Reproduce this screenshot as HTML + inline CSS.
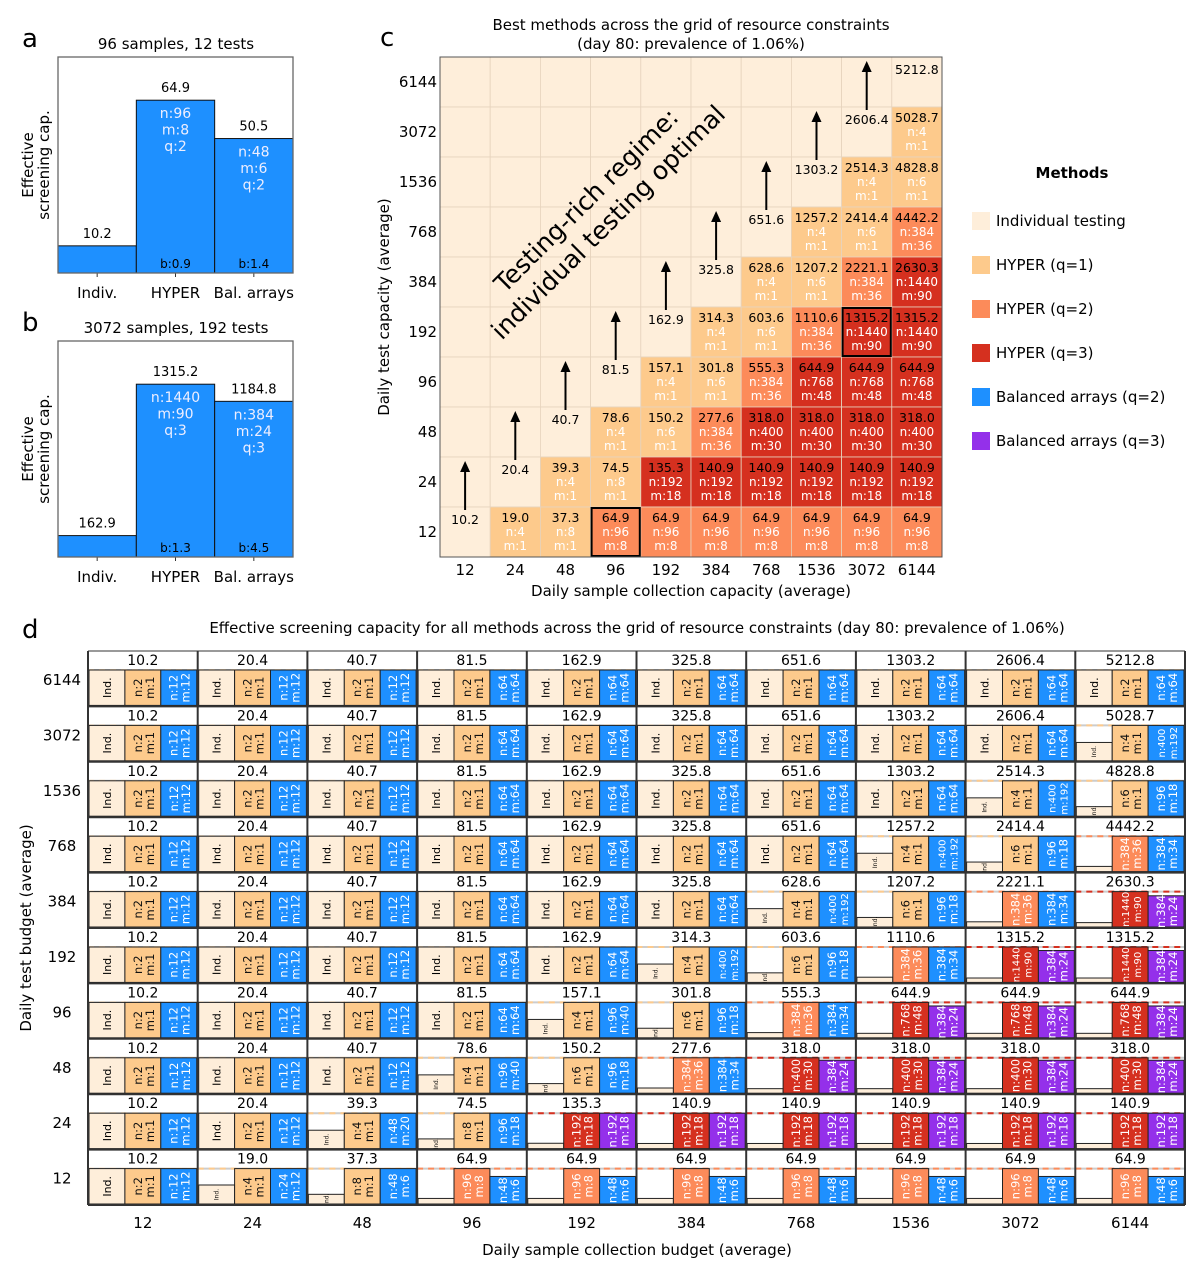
<!DOCTYPE html>
<html><head><meta charset="utf-8"><style>
html,body{margin:0;padding:0;background:#fff}
svg{display:block;font-family:"DejaVu Sans","Liberation Sans",sans-serif}
</style></head><body>
<svg id="fig" width="1200" height="1275" viewBox="0 0 1200 1275" xmlns="http://www.w3.org/2000/svg">
<g id="pa"></g>
<g id="pb"></g>
<g id="pc"></g>
<g id="pd"></g>
</svg>
<script>
const samples=[12,24,48,96,192,384,768,1536,3072,6144];
const tests=[6144,3072,1536,768,384,192,96,48,24,12];
const indVals=[10.2,20.4,40.7,81.5,162.9,325.8,651.6,1303.2,2606.4,5212.8];
const bestVals=[
[10.2,20.4,40.7,81.5,162.9,325.8,651.6,1303.2,2606.4,5212.8],
[10.2,20.4,40.7,81.5,162.9,325.8,651.6,1303.2,2606.4,5028.7],
[10.2,20.4,40.7,81.5,162.9,325.8,651.6,1303.2,2514.3,4828.8],
[10.2,20.4,40.7,81.5,162.9,325.8,651.6,1257.2,2414.4,4442.2],
[10.2,20.4,40.7,81.5,162.9,325.8,628.6,1207.2,2221.1,2630.3],
[10.2,20.4,40.7,81.5,162.9,314.3,603.6,1110.6,1315.2,1315.2],
[10.2,20.4,40.7,81.5,157.1,301.8,555.3,644.9,644.9,644.9],
[10.2,20.4,40.7,78.6,150.2,277.6,318.0,318.0,318.0,318.0],
[10.2,20.4,39.3,74.5,135.3,140.9,140.9,140.9,140.9,140.9],
[10.2,19.0,37.3,64.9,64.9,64.9,64.9,64.9,64.9,64.9]];
const hyperLabs=[
["2,1,1","2,1,1","2,1,1","2,1,1","2,1,1","2,1,1","2,1,1","2,1,1","2,1,1","2,1,1"],
["2,1,1","2,1,1","2,1,1","2,1,1","2,1,1","2,1,1","2,1,1","2,1,1","2,1,1","4,1,1"],
["2,1,1","2,1,1","2,1,1","2,1,1","2,1,1","2,1,1","2,1,1","2,1,1","4,1,1","6,1,1"],
["2,1,1","2,1,1","2,1,1","2,1,1","2,1,1","2,1,1","2,1,1","4,1,1","6,1,1","384,36,2"],
["2,1,1","2,1,1","2,1,1","2,1,1","2,1,1","2,1,1","4,1,1","6,1,1","384,36,2","1440,90,3"],
["2,1,1","2,1,1","2,1,1","2,1,1","2,1,1","4,1,1","6,1,1","384,36,2","1440,90,3","1440,90,3"],
["2,1,1","2,1,1","2,1,1","2,1,1","4,1,1","6,1,1","384,36,2","768,48,3","768,48,3","768,48,3"],
["2,1,1","2,1,1","2,1,1","4,1,1","6,1,1","384,36,2","400,30,3","400,30,3","400,30,3","400,30,3"],
["2,1,1","2,1,1","4,1,1","8,1,1","192,18,3","192,18,3","192,18,3","192,18,3","192,18,3","192,18,3"],
["2,1,1","4,1,1","8,1,1","96,8,2","96,8,2","96,8,2","96,8,2","96,8,2","96,8,2","96,8,2"]];
const baLabs=[
["12,12,2","12,12,2","12,12,2","64,64,2","64,64,2","64,64,2","64,64,2","64,64,2","64,64,2","64,64,2"],
["12,12,2","12,12,2","12,12,2","64,64,2","64,64,2","64,64,2","64,64,2","64,64,2","64,64,2","400,192,2"],
["12,12,2","12,12,2","12,12,2","64,64,2","64,64,2","64,64,2","64,64,2","64,64,2","400,192,2","96,18,2"],
["12,12,2","12,12,2","12,12,2","64,64,2","64,64,2","64,64,2","64,64,2","400,192,2","96,18,2","384,34,2"],
["12,12,2","12,12,2","12,12,2","64,64,2","64,64,2","64,64,2","400,192,2","96,18,2","384,34,2","384,24,3"],
["12,12,2","12,12,2","12,12,2","64,64,2","64,64,2","400,192,2","96,18,2","384,34,2","384,24,3","384,24,3"],
["12,12,2","12,12,2","12,12,2","64,64,2","96,40,2","96,18,2","384,34,2","384,24,3","384,24,3","384,24,3"],
["12,12,2","12,12,2","12,12,2","96,40,2","96,18,2","384,34,2","384,24,3","384,24,3","384,24,3","384,24,3"],
["12,12,2","12,12,2","48,20,2","96,18,2","192,18,3","192,18,3","192,18,3","192,18,3","192,18,3","192,18,3"],
["12,12,2","24,12,2","48,6,2","48,6,2","48,6,2","48,6,2","48,6,2","48,6,2","48,6,2","48,6,2"]];
const baVals=[
[10.2,20.4,40.7,81.5,162.9,325.8,651.6,1303.2,2606.4,5212.8],
[10.2,20.4,40.7,81.5,162.9,325.8,651.6,1303.2,2606.4,5028.7],
[10.2,20.4,40.7,81.5,162.9,325.8,651.6,1303.2,2514.3,4828.8],
[10.2,20.4,40.7,81.5,162.9,325.8,651.6,1257.2,2414.4,4442.2],
[10.2,20.4,40.7,81.5,162.9,325.8,628.6,1207.2,2221.1,2320.0],
[10.2,20.4,40.7,81.5,162.9,314.3,603.6,1110.6,1184.8,1184.8],
[10.2,20.4,40.7,81.5,157.1,301.8,555.3,580.0,580.0,580.0],
[10.2,20.4,40.7,78.6,150.2,277.6,296.0,296.0,296.0,296.0],
[10.2,20.4,39.3,74.5,135.3,140.9,140.9,140.9,140.9,140.9],
[10.2,19.0,37.3,50.5,50.5,50.5,50.5,50.5,50.5,50.5]];
// panel a/b data
const abCats=["Indiv.","HYPER","Bal. arrays"];
const aVals=[10.2,64.9,50.5];
const aLabs=["","n:96|m:8|q:2","n:48|m:6|q:2"];
const aB=["","b:0.9","b:1.4"];
const bVals=[162.9,1315.2,1184.8];
const bLabs=["","n:1440|m:90|q:3","n:384|m:24|q:3"];
const bB=["","b:1.3","b:4.5"];
const legendNames=["Individual testing","HYPER (q=1)","HYPER (q=2)","HYPER (q=3)","Balanced arrays (q=2)","Balanced arrays (q=3)"];

const COL={ind:"#feeeda",h1:"#fdca8c",h2:"#fc8b5a",h3:"#d5301f",b2:"#1e90ff",b3:"#9430ea"};
const NS="http://www.w3.org/2000/svg";
function el(p,tag,at,name){const e=document.createElementNS(NS,tag);for(const k in at)e.setAttribute(k,at[k]);


p.appendChild(e);return e;}
function tx(p,x,y,s,fs,name,extra){const o=Object.assign({x:x,y:y,'font-size':fs,'text-anchor':'middle',fill:'#000'},extra||{});const e=el(p,'text',o,name);e.textContent=s;return e;}

// ---------- panels a & b
function barPanel(g,top,title,vals,labs,bs,letter){
  const L=58,R=293,T=top,B=top+216,bw=(R-L)/3,mx=Math.max(...vals)*1.25;
  const ys=v=>B-v/mx*(B-T);
  tx(g,22,top-10,letter,26,'panel-letter',{'text-anchor':'start'});
  tx(g,176,top-8,title,15,'panel-title');
  vals.forEach((v,i)=>{
    const x=L+i*bw;
    el(g,'rect',{x:x,y:ys(v),width:bw,height:B-ys(v),fill:COL.b2,stroke:'#111','stroke-width':1},'bar-'+abCats[i].toLowerCase().replace(/[^a-z]+/g,'-'));
    tx(g,x+bw/2,ys(v)-8,v.toFixed(1),13,'bar-value');
    if(labs[i]) labs[i].split('|').forEach((s,j)=>tx(g,x+bw/2,ys(v)+18+j*16.5,s,14,'bar-params',{fill:'#eef'}));
    if(bs[i]) tx(g,x+bw/2,B-5,bs[i],12,'bar-b-label');
    el(g,'line',{x1:x+bw/2,x2:x+bw/2,y1:B,y2:B+4,stroke:'#333'},'x-tick');
    tx(g,x+bw/2,B+25,abCats[i],15,'x-tick-label');
  });
  el(g,'rect',{x:L,y:T,width:R-L,height:B-T,fill:'none',stroke:'#666','stroke-width':1.3},'axes-frame');
  const yl=el(g,'text',{x:0,y:0,'font-size':15,'text-anchor':'middle',transform:`translate(33,${(T+B)/2}) rotate(-90)`},'y-axis-title');
  yl.innerHTML='<tspan x="0" dy="0">Effective</tspan><tspan x="0" dy="16">screening cap.</tspan>';
}
barPanel(document.getElementById('pa'),57,"96 samples, 12 tests",aVals,aLabs,aB,'a');
barPanel(document.getElementById('pb'),341,"3072 samples, 192 tests",bVals,bLabs,bB,'b');

function parse(s){const a=s.split(',');return {n:a[0],m:a[1],q:+a[2]};}
function bestKind(r,c){const ind=indVals[Math.min(c,9-r)];if(Math.abs(bestVals[r][c]-ind)<0.05)return 'ind';return 'h'+parse(hyperLabs[r][c]).q;}

// ---------- panel c
(function(){
 const g=document.getElementById('pc');
 const X0=440,Y0=57,W=50.2,H=50;
 tx(g,380,46,'c',26,'panel-letter',{'text-anchor':'start'});
 tx(g,691,30,'Best methods across the grid of resource constraints',15,'chart-title');
 tx(g,691,49,'(day 80: prevalence of 1.06%)',15,'chart-subtitle');
 for(let r=0;r<10;r++)for(let c=0;c<10;c++){
  const k=bestKind(r,c),x=X0+c*W,y=Y0+r*H;
  el(g,'rect',{x:x,y:y,width:W,height:H,fill:COL[k],stroke:'#e6d3bd','stroke-width':0.8},'heatmap-cell');
  const cx=x+W/2,v=bestVals[r][c];
  if(k!=='ind'){
    const h=parse(hyperLabs[r][c]);
    tx(g,cx,y+15,v.toFixed(1),12.5,'cell-value');
    tx(g,cx,y+29,'n:'+h.n,12,'cell-n',{fill:'#fff'});
    tx(g,cx,y+43,'m:'+h.m,12,'cell-m',{fill:'#fff'});
  } else if(c===9-r){
    tx(g,cx,y+17,v.toFixed(1),12.5,'cell-value');
    if(r>0){
      el(g,'line',{x1:cx,x2:cx,y1:y+3,y2:y-36,stroke:'#000','stroke-width':2},'arrow-shaft');
      el(g,'polygon',{points:`${cx-5},${y-35} ${cx+5},${y-35} ${cx},${y-46}`,fill:'#000'},'arrow-head');
    }
  }
 }
 // highlighted cells
 [[5,8],[9,3]].forEach(([r,c])=>el(g,'rect',{x:X0+c*W+1,y:Y0+r*H+1,width:W-2,height:H-2,fill:'none',stroke:'#000','stroke-width':2},'highlight-box'));
 el(g,'rect',{x:X0,y:Y0,width:W*10,height:H*10,fill:'none',stroke:'#555','stroke-width':1},'axes-frame');
 const t=el(g,'text',{x:0,y:0,'font-size':25,'text-anchor':'middle',transform:'translate(598,212) rotate(-45)'},'regime-annotation');
 t.innerHTML='<tspan x="0" dy="-8">Testing-rich regime:</tspan><tspan x="0" dy="31">individual testing optimal</tspan>';
 tests.forEach((v,i)=>tx(g,437,Y0+i*H+H/2+5,String(v),15,'y-tick-label',{'text-anchor':'end'}));
 samples.forEach((v,i)=>tx(g,X0+i*W+W/2,575,String(v),15,'x-tick-label'));
 tx(g,691,596,'Daily sample collection capacity (average)',15,'x-axis-title');
 tx(g,0,0,'Daily test capacity (average)',15,'y-axis-title',{transform:'translate(389,307) rotate(-90)'});
 // legend
 tx(g,1072,178,'Methods',15,'legend-title',{'font-weight':'bold'});
 const lc=[COL.ind,COL.h1,COL.h2,COL.h3,COL.b2,COL.b3];
 legendNames.forEach((n,i)=>{
  const y=212+i*44;
  el(g,'rect',{x:972,y:y,width:18,height:18,fill:lc[i]},'legend-swatch');
  tx(g,996,y+14,n,15,'legend-entry',{'text-anchor':'start'});
 });
})();

// ---------- panel d
(function(){
 const g=document.getElementById('pd');
 const X0=88,Y0=651,W=109.7,H=55.4;
 tx(g,22,638,'d',26,'panel-letter',{'text-anchor':'start'});
 tx(g,637,633,'Effective screening capacity for all methods across the grid of resource constraints (day 80: prevalence of 1.06%)',15,'chart-title');
 const fill={1:COL.h1,2:COL.h2,3:COL.h3};
 for(let r=0;r<10;r++)for(let c=0;c<10;c++){
  const x=X0+c*W,y=Y0+r*H,best=bestVals[r][c],k=bestKind(r,c);
  const ind=indVals[Math.min(c,9-r)],h=parse(hyperLabs[r][c]),b=parse(baLabs[r][c]),bv=baVals[r][c];
  const bt=y+19,bb=y+H-1,bh=bb-bt,bw=(W-2)/3;
  el(g,'rect',{x:x,y:y,width:W,height:H,fill:'#fff'},'cell-background');
  tx(g,x+W/2,y+14,best.toFixed(1),14,'cell-best-value');
  el(g,'line',{x1:x,x2:x+W,y1:bt,y2:bt,stroke:'#ccc','stroke-width':2},'best-line-base');
  el(g,'line',{x1:x,x2:x+W,y1:bt,y2:bt,stroke:k==='ind'?'#f6dcbc':COL[k],'stroke-width':2,'stroke-dasharray':'6,5'},'best-line');
  const ys=v=>bb-v/best*bh;
  const bars=[[ind,COL.ind,null,'#000'],[best,fill[h.q],h,h.q===1?'#111':'#fff'],[bv,b.q===3?COL.b3:COL.b2,b,'#fff']];
  bars.forEach((d,i)=>{
    const bx=x+1+i*bw,top=ys(d[0]),cx=bx+bw/2,cy=(top+bb)/2;
    el(g,'rect',{x:bx,y:top,width:bw,height:bb-top,fill:d[1],stroke:'#222','stroke-width':1},['ind-bar','hyper-bar','balanced-array-bar'][i]);
    if(i===0){
      const f=d[0]/best;
      if(f>0.8) tx(g,cx+4,cy,'Ind.',11,'ind-label',{transform:`rotate(-90 ${cx+4} ${cy})`});
      else if(f>0.25) tx(g,cx+2,cy,'Ind.',6,'ind-label',{transform:`rotate(-90 ${cx+2} ${cy})`});
    } else {
      const p=d[2],fs=(p.n.length+p.m.length>5)?10:11.5;
      tx(g,cx-1,cy,'n:'+p.n,fs,'bar-n-label',{fill:d[3],transform:`rotate(-90 ${cx-1} ${cy})`});
      tx(g,cx+11,cy,'m:'+p.m,fs,'bar-m-label',{fill:d[3],transform:`rotate(-90 ${cx+11} ${cy})`});
    }
  });
 }
 for(let i=0;i<=10;i++){
  el(g,'line',{x1:X0+i*W,x2:X0+i*W,y1:Y0,y2:Y0+10*H,stroke:'#333','stroke-width':2},'column-separator');
  el(g,'line',{x1:X0,x2:X0+10*W,y1:Y0+i*H,y2:Y0+i*H,stroke:'#333','stroke-width':i===0?1:2},'row-separator');
 }
 tests.forEach((v,i)=>tx(g,62,Y0+i*H+34,String(v),15,'y-tick-label'));
 samples.forEach((v,i)=>tx(g,X0+i*W+W/2,1228,String(v),15,'x-tick-label'));
 tx(g,637,1255,'Daily sample collection budget (average)',15,'x-axis-title');
 tx(g,0,0,'Daily test budget (average)',15,'y-axis-title',{transform:'translate(31,928) rotate(-90)'});
})();
</script>
</body></html>
